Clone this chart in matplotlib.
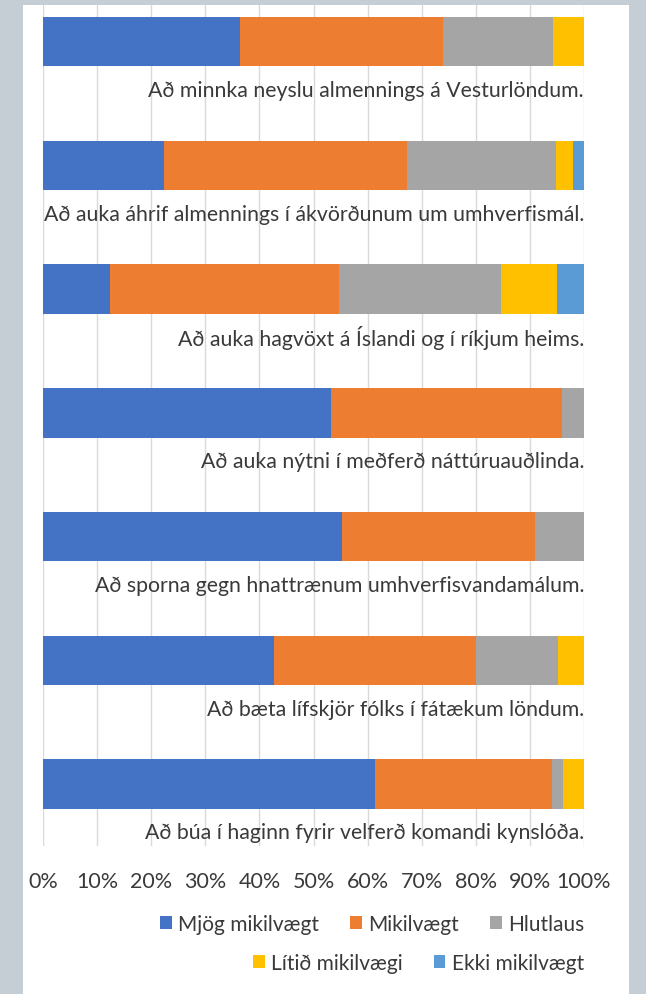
import numpy as np
import matplotlib.pyplot as plt
from matplotlib.patches import Patch

plt.rcParams['font.family'] = ['Lato', 'DejaVu Sans']

# ----- Data (percent of answers) -----
statements = [
    "Að minnka neyslu almennings á Vesturlöndum.",
    "Að auka áhrif almennings í ákvörðunum um umhverfismál.",
    "Að auka hagvöxt á Íslandi og í ríkjum heims.",
    "Að auka nýtni í meðferð náttúruauðlinda.",
    "Að sporna gegn hnattrænum umhverfisvandamálum.",
    "Að bæta lífskjör fólks í fátækum löndum.",
    "Að búa í haginn fyrir velferð komandi kynslóða.",
]
categories = ["Mjög mikilvægt", "Mikilvægt", "Hlutlaus", "Lítið mikilvægi", "Ekki mikilvægt"]

mjog_mikilvaegt = [36.5, 22.3, 12.3, 53.3, 55.3, 42.7, 61.4]
mikilvaegt      = [37.5, 45.0, 42.4, 42.7, 35.7, 37.3, 32.7]
hlutlaus        = [20.2, 27.6, 29.9, 4.0, 9.0, 15.2, 2.1]
litid           = [5.8, 3.1, 10.5, 0.0, 0.0, 4.8, 3.8]
ekki            = [0.0, 2.0, 4.9, 0.0, 0.0, 0.0, 0.0]

series = [mjog_mikilvaegt, mikilvaegt, hlutlaus, litid, ekki]
colors = ['#4472C4', '#ED7D31', '#A5A5A5', '#FFC000', '#5B9BD5']
text_color = '#3A3A3A'

# ----- Figure -----
fig = plt.figure(figsize=(6.46, 9.95), dpi=100)
fig.patch.set_facecolor('#C5CDD5')
# white panel
fig.add_artist(plt.Rectangle((23 / 646, 0), 606 / 646, 1 - 6 / 995,
                             transform=fig.transFigure, facecolor='white',
                             edgecolor='none', zorder=0))

ax = fig.add_axes([43 / 646, 1 - 847 / 995, 541 / 646, 841 / 995])
ax.set_facecolor('none')

y = np.arange(len(statements))
left = np.zeros(len(statements))
for vals, col, name in zip(series, colors, categories):
    ax.barh(y, vals, left=left, height=0.40, color=col, label=name, zorder=3)
    left += np.array(vals)

for i, s in enumerate(statements):
    ax.text(100, i + 0.39, s, ha='right', va='center', fontsize=15.3,
            color=text_color, zorder=4)

ax.set_xlim(0, 100)
ax.set_ylim(6.5, -0.295)
ax.set_xticks(np.arange(0, 101, 10))
ax.set_xticklabels([f"{v}%" for v in range(0, 101, 10)], fontsize=15.5, color=text_color)
ax.set_yticks([])
ax.tick_params(axis='x', length=0, pad=18)
ax.grid(axis='x', color='#D9D9D9', linewidth=1, zorder=0)
for sp in ax.spines.values():
    sp.set_visible(False)

# ----- Legend in two rows -----
handles = [Patch(facecolor=c, edgecolor='none') for c in colors]
leg_kw = dict(frameon=False, fontsize=15, handlelength=0.55, handleheight=0.55,
              handletextpad=0.3, columnspacing=1.5, borderpad=0, borderaxespad=0,
              labelcolor=text_color)
leg1 = fig.legend(handles[:3], categories[:3], ncol=3, loc='center right',
                  bbox_to_anchor=(584 / 646, 1 - 925 / 995), **leg_kw)
leg2 = fig.legend(handles[3:], categories[3:], ncol=2, loc='center right',
                  bbox_to_anchor=(584 / 646, 1 - 964 / 995), **leg_kw)

fig.savefig('out.png', dpi=100)
